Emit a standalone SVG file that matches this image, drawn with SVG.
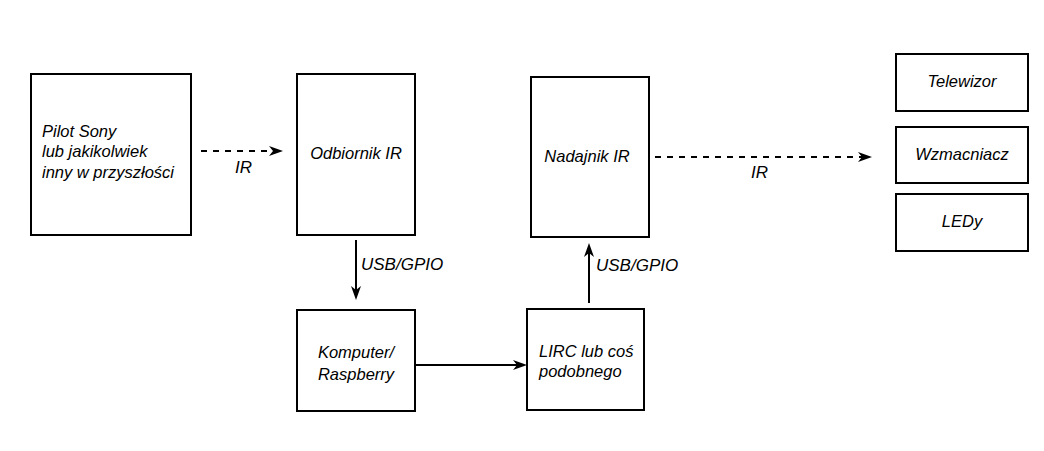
<svg xmlns="http://www.w3.org/2000/svg" width="1044" height="451" viewBox="0 0 1044 451">
<style>
.box{fill:#fff;stroke:#000;stroke-width:2}
.t{font-family:"Liberation Sans",Arial,sans-serif;font-style:italic;font-size:16.5px;fill:#000}
.c{text-anchor:middle}
.lbl{font-family:"Liberation Sans",Arial,sans-serif;font-style:italic;font-size:17px;fill:#000}
.ln{fill:none;stroke:#000;stroke-width:2}
.dash{stroke-dasharray:6 6}
</style>
<defs>
<marker id="ah" markerUnits="userSpaceOnUse" markerWidth="14" markerHeight="10" refX="4" refY="5" orient="auto" overflow="visible">
<path d="M0,0 L14,5 L0,10 L4,5 Z" fill="#000"/>
</marker>
</defs>
<rect width="1044" height="451" fill="#fff"/>
<g id="pilot">
<rect class="box" x="31" y="74" width="160" height="161"/>
<text class="t" x="42" y="137">Pilot Sony</text>
<text class="t" x="42" y="157">lub jakikolwiek</text>
<text class="t" x="42" y="178">inny w przyszłości</text>
</g>
<g id="odbiornik">
<rect class="box" x="297" y="74" width="118" height="161"/>
<text class="t c" x="356" y="159">Odbiornik IR</text>
</g>
<g id="nadajnik">
<rect class="box" x="531" y="77" width="118" height="160"/>
<text class="t c" x="587" y="162">Nadajnik IR</text>
</g>
<g id="komputer">
<rect class="box" x="297" y="310" width="118" height="101"/>
<text class="t c" x="356" y="358">Komputer/</text>
<text class="t c" x="356" y="380">Raspberry</text>
</g>
<g id="lirc">
<rect class="box" x="527" y="309" width="117" height="101"/>
<text class="t" x="539" y="357">LIRC lub coś</text>
<text class="t" x="539" y="377">podobnego</text>
</g>
<g id="telewizor">
<rect class="box" x="896" y="54" width="132" height="57"/>
<text class="t c" x="962" y="87">Telewizor</text>
</g>
<g id="wzmacniacz">
<rect class="box" x="896" y="127" width="132" height="56"/>
<text class="t c" x="962" y="160">Wzmacniacz</text>
</g>
<g id="ledy">
<rect class="box" x="896" y="194" width="132" height="57"/>
<text class="t c" x="962" y="227">LEDy</text>
</g>
<g id="connectors">
<line class="ln dash" x1="201" y1="151" x2="273" y2="151" marker-end="url(#ah)"/>
<text class="lbl" x="235" y="173">IR</text>
<line class="ln dash" x1="655" y1="157" x2="862" y2="157" marker-end="url(#ah)"/>
<text class="lbl" x="751" y="178">IR</text>
<line class="ln" x1="356" y1="240" x2="356" y2="290" marker-end="url(#ah)"/>
<text class="lbl" x="361" y="270">USB/GPIO</text>
<line class="ln" x1="415" y1="365" x2="517" y2="365" marker-end="url(#ah)"/>
<line class="ln" x1="589" y1="303" x2="589" y2="253" marker-end="url(#ah)"/>
<text class="lbl" x="596" y="271">USB/GPIO</text>
</g>
</svg>
